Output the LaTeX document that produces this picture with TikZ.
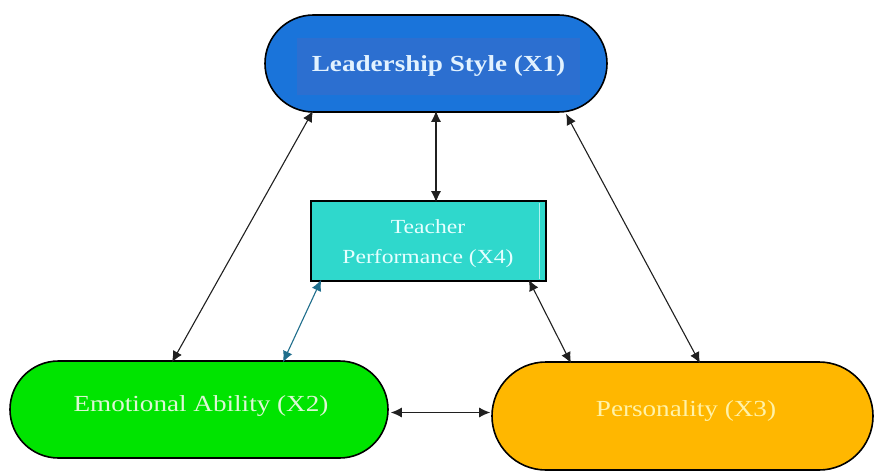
\documentclass[tikz,border=0pt]{standalone}
\usepackage{fontspec}
\setmainfont{Liberation Serif}[FakeStretch=1.18]
\usetikzlibrary{shapes.misc,arrows.meta,calc}
\definecolor{xblue}{HTML}{1A74DA}
\definecolor{xblueinner}{HTML}{2C6FD0}
\definecolor{xbluetext}{HTML}{E2F2FF}
\definecolor{xgreen}{HTML}{00E400}
\definecolor{xgreentext}{HTML}{DDF7D5}
\definecolor{xorange}{HTML}{FFB700}
\definecolor{xorangetext}{HTML}{FFF2A8}
\definecolor{xcyan}{HTML}{2FD8CC}
\definecolor{xcyantext}{HTML}{E6FFFF}
\definecolor{xarrowblue}{HTML}{1F6E8C}
\definecolor{xline}{HTML}{202020}
\tikzset{
  pill/.style={rounded rectangle, draw=black, line width=1.6pt, minimum height=97pt, inner sep=0pt},
  tbox/.style={rectangle, draw=black, line width=1.6pt, minimum width=235pt, minimum height=80pt, fill=xcyan, inner sep=0pt},
  arr/.style={{Latex[length=11pt,width=10pt]}-{Latex[length=11pt,width=10pt]}, line width=1.1pt, xline},
  arrb/.style={arr, xarrowblue}
}
\begin{document}
\begin{tikzpicture}[x=1pt,y=-1pt]
\useasboundingbox (0,0) rectangle (875,473);
\fill[white] (0,0) rectangle (875,473);
% nodes
\node[pill, fill=xblue, minimum width=342pt] (X1) at (436,63.5) {};
\node[fill=xblueinner, minimum width=283pt, minimum height=57pt, inner sep=0pt,
      font=\fontsize{23}{27}\selectfont\bfseries, text=xbluetext] (X1t) at (438.5,66.5) {Leadership Style (X1)};
\node[tbox] (X4) at (428.5,241) {};
\draw[xcyantext!70!xcyan, line width=1.2pt] ([xshift=-7pt,yshift=-3pt]X4.north east) -- ([xshift=-7pt,yshift=3pt]X4.south east);
\node[align=center, font=\fontsize{20}{30}\selectfont, text=xcyantext] (X4t) at (428,244) {Teacher\\Performance (X4)};
\node[pill, fill=xgreen, minimum width=378pt] (X2) at (199,409.5) {};
\node[font=\fontsize{23}{27}\selectfont, text=xgreentext] (X2t) at (201,406) {Emotional Ability (X2)};
\node[pill, fill=xorange, minimum width=381pt, minimum height=108pt] (X3) at (682.5,416) {};
\node[font=\fontsize{23}{27}\selectfont, text=xorangetext] (X3t) at (686,411) {Personality (X3)};
% connectors
\draw[arr] ([xshift=-123pt,yshift=2pt]X1.south) -- ([xshift=-27pt,yshift=-2pt]X2.north);
\draw[arr] ([yshift=2pt]X1.south) -- ([xshift=7.5pt,yshift=-2pt]X4.north);
\draw[arr] ([xshift=130pt,yshift=-1pt]X1.south) -- ([xshift=17.5pt,yshift=-2pt]X3.north);
\draw[arrb] ([xshift=11pt,yshift=2pt]X4.south west) -- ([xshift=84pt,yshift=-2pt]X2.north);
\draw[arr] ([xshift=-18pt,yshift=2pt]X4.south east) -- ([xshift=-111.5pt,yshift=-2pt]X3.north);
\draw[arr] ([xshift=2pt,yshift=-3pt]X2.east) -- ([xshift=-1pt,yshift=-3pt]X2.east -| X3.west);
\end{tikzpicture}
\end{document}
